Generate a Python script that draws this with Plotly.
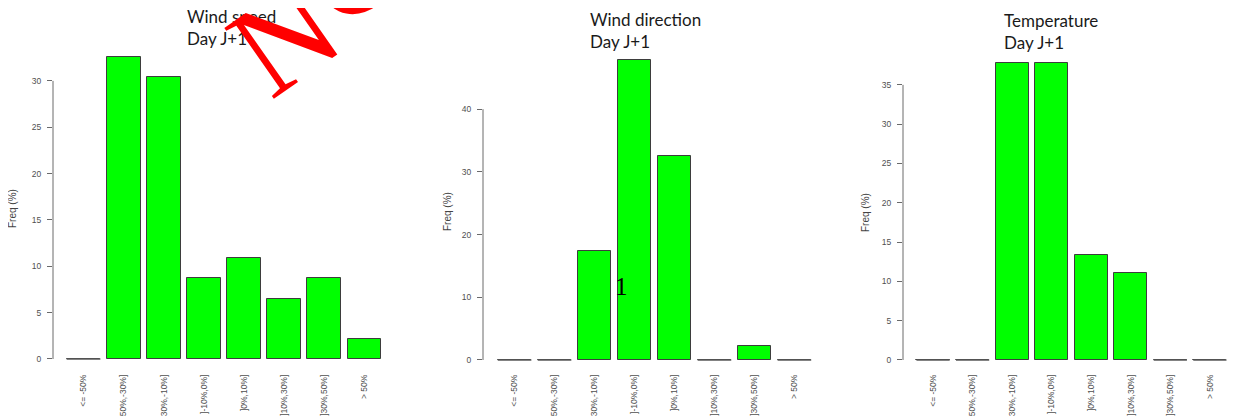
import plotly.graph_objects as go

# ---------------- data ----------------
categories = ["<= -50%", "]-50%,-30%]", "]-30%,-10%]", "]-10%,0%]",
              "]0%,10%]", "]10%,30%]", "]30%,50%]", "> 50%"]
wind_speed = [0, 32.6, 30.4, 8.7, 10.9, 6.5, 8.7, 2.2]
wind_direction = [0, 0, 17.4, 47.8, 32.6, 0, 2.2, 0]
temperature = [0, 0, 37.8, 37.8, 13.3, 11.1, 0, 0]
titles = ["Wind speed<br>Day J+1", "Wind direction<br>Day J+1", "Temperature<br>Day J+1"]
y_tick_values = [[0, 5, 10, 15, 20, 25, 30],
                 [0, 10, 20, 30, 40],
                 [0, 5, 10, 15, 20, 25, 30, 35]]
series = [wind_speed, wind_direction, temperature]

# ---------------- layout geometry (page pixels) ----------------
OFF = 8                      # the page body margin
W, H = 1236 - OFF, 416 - OFF  # figure size


def px(x):
    return (x - OFF) / W


def py(y):
    return 1 - (y - OFF) / H


x_dom_px = [(53, 395), (483, 826), (903, 1234)]
x_ranges = [(-0.76, 7.76), (-0.79, 7.79), (-0.76, 7.61)]
y_dom_px = (364, 44)
y_ranges = [(-0.54, 33.98), (-0.64, 50.4), (-0.51, 40.2)]
title_pos = [(185, 4), (588, 7), (1002, 8)]
ylab_pos = [(12, 209), (447, 212), (865, 213)]
bar_w = 0.84

GREEN = "#00FF00"
OUTLINE = "#3d3d3d"
AXIS = "#6a6a6a"
TICKFONT = dict(family="Liberation Sans, Arial", size=8.5, color="#505050")

fig = go.Figure()
annotations = []
shapes = []
positions = list(range(len(categories)))

for k, vals in enumerate(series):
    n = "" if k == 0 else str(k + 1)
    xa, ya = "x" + n, "y" + n
    fig.add_trace(go.Bar(
        x=positions, y=vals, width=bar_w, xaxis=xa, yaxis=ya,
        marker=dict(color=GREEN, line=dict(color=OUTLINE, width=1)),
        showlegend=False, hoverinfo="skip"))
    # zero-height bars drawn as their outline at 0 (as R barplot does)
    zx, zy = [], []
    for p, v in zip(positions, vals):
        if v == 0:
            zx += [p - bar_w / 2, p + bar_w / 2, None]
            zy += [0, 0, None]
    fig.add_trace(go.Scatter(x=zx, y=zy, mode="lines", xaxis=xa, yaxis=ya,
                             line=dict(color="#5a5a5a", width=1.5),
                             showlegend=False, hoverinfo="skip"))
    xd = x_dom_px[k]
    fig.layout["xaxis" + n] = dict(
        domain=[px(xd[0]), min(1, px(xd[1]))], range=list(x_ranges[k]), anchor=ya,
        tickmode="array", tickvals=positions, ticktext=categories,
        tickangle=-90, tickfont=TICKFONT, showgrid=False, zeroline=False,
        showline=False, ticks="", ticklabelstandoff=8, automargin=False)
    fig.layout["yaxis" + n] = dict(
        domain=[py(y_dom_px[0]), py(y_dom_px[1])], range=list(y_ranges[k]), anchor=xa,
        tickmode="array", tickvals=y_tick_values[k], tickfont=TICKFONT,
        ticks="outside", ticklen=5, tickcolor=AXIS, tickwidth=1,
        showgrid=False, zeroline=False, showline=False, ticklabelstandoff=4,
        automargin=False)
    shapes.append(dict(type="line", xref=xa + " domain", yref=ya,
                       x0=0, x1=0, y0=y_tick_values[k][0], y1=y_tick_values[k][-1],
                       line=dict(color=AXIS, width=1)))
    tx, ty = title_pos[k]
    annotations.append(dict(text=titles[k], x=px(tx), y=py(ty), xref="paper", yref="paper",
                            xanchor="left", yanchor="top", align="left", showarrow=False,
                            font=dict(family="Lato", size=17, color="#1a1a1a")))
    lx, ly = ylab_pos[k]
    annotations.append(dict(text="Freq (%)", x=px(lx), y=py(ly), xref="paper", yref="paper",
                            xanchor="center", yanchor="middle", textangle=-90, showarrow=False,
                            font=dict(family="Liberation Sans, Arial", size=10, color="#444444")))

# stray "1" in the middle panel
annotations.append(dict(text="1", x=px(621), y=py(302), xref="paper", yref="paper",
                        showarrow=False, font=dict(family="Liberation Serif", size=25, color="black")))
# red watermark (partly outside the picture)
WM = dict(family="Liberation Serif", size=132, color="#FF0000")
annotations.append(dict(text="N", x=px(284), y=py(38), xref="paper", yref="paper",
                        xanchor="center", yanchor="middle", textangle=-35, showarrow=False, font=WM))
annotations.append(dict(text="O", x=px(352), y=py(-32), xref="paper", yref="paper",
                        xanchor="center", yanchor="middle", textangle=-35, showarrow=False, font=WM))

fig.update_layout(width=W, height=H, margin=dict(l=0, r=0, t=0, b=0, autoexpand=False),
                  paper_bgcolor="white", plot_bgcolor="white",
                  annotations=annotations, shapes=shapes, bargap=0)
fig.write_html("out.html")
